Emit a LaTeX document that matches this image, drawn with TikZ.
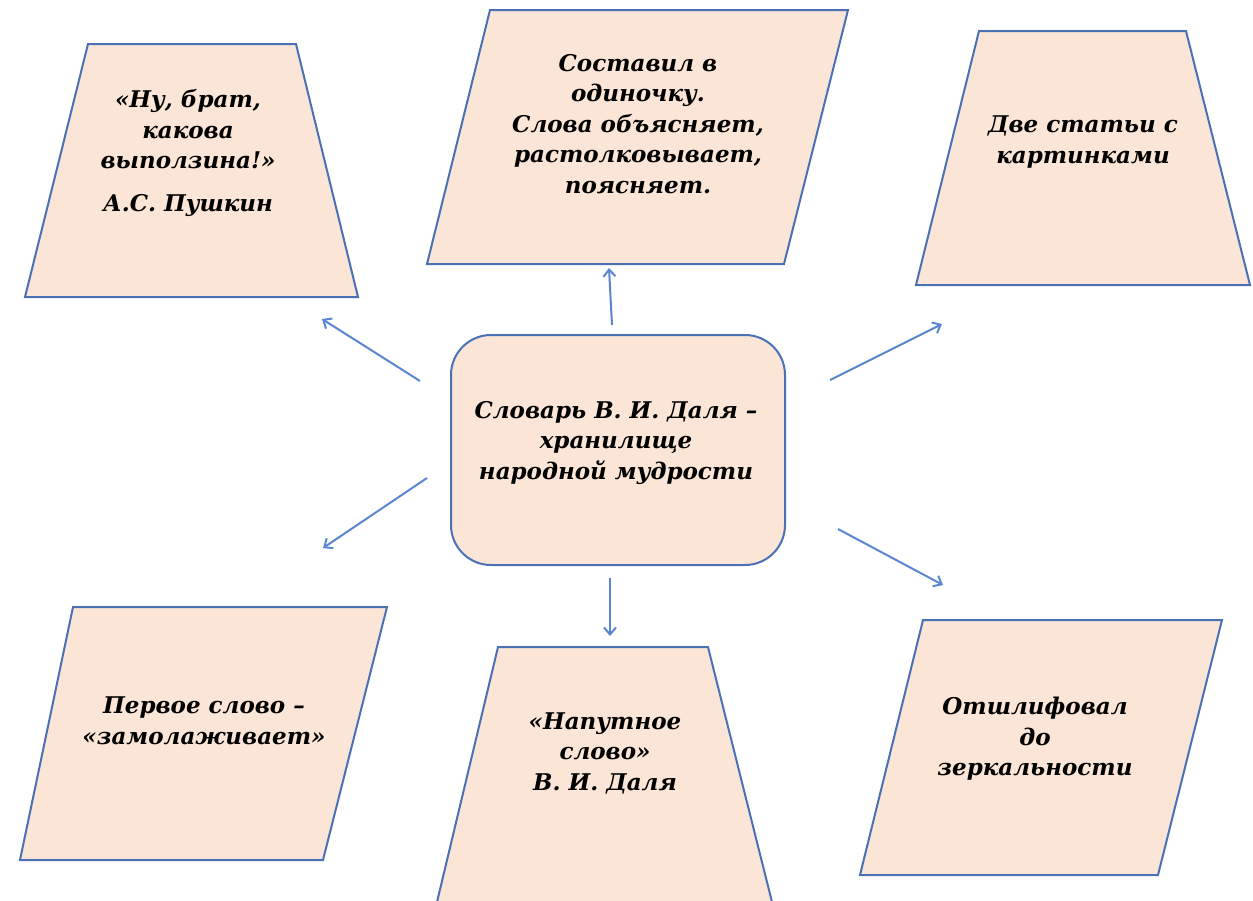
\documentclass[tikz,border=0pt]{standalone}
\usepackage{fontspec}
\setmainfont{DejaVu Serif}
\usetikzlibrary{arrows.meta}
\definecolor{fillc}{HTML}{FBE5D6}
\definecolor{linec}{HTML}{4A70B5}
\definecolor{arrc}{HTML}{5A86D0}
\begin{document}
\begin{tikzpicture}[x=1pt,y=-1pt,
  box/.style={fill=fillc,draw=linec,line width=2pt,line join=miter},
  lbl/.style={font=\fontsize{23}{30.5}\selectfont\bfseries\itshape,align=center,text=black,inner sep=0pt},
  arr/.style={draw=arrc,line width=2pt,-{Straight Barb[length=7pt,width=12pt]}}]
\useasboundingbox (0,0) rectangle (1253,900);
% shapes
\filldraw[box] (88,44) -- (296,44) -- (358,297) -- (25,297) -- cycle;
\filldraw[box] (490,10) -- (848,10) -- (784,264) -- (427,264) -- cycle;
\filldraw[box] (979,31) -- (1186,31) -- (1250,285) -- (916,285) -- cycle;
\filldraw[box,rounded corners=40pt] (451,335) rectangle (785,565);
\filldraw[box] (73,607) -- (387,607) -- (323,860) -- (20,860) -- cycle;
\filldraw[box] (498,647) -- (708,647) -- (772,902) -- (437,902) -- cycle;
\filldraw[box] (923,620) -- (1222,620) -- (1158,875) -- (860,875) -- cycle;
% labels
\node[lbl] (tl) at (188,153) {«Ну, брат,\\какова\\выползина!»\\[12pt]А.С. Пушкин};
\node[lbl] (tc) at (638,124) {Составил в\\одиночку.\\Слова объясняет,\\растолковывает,\\поясняет.};
\node[lbl] (tr) at (1083,142) {Две статьи с\\картинками};
\node[lbl] (c) at (616,443) {Словарь В. И. Даля –\\хранилище\\народной мудрости};
\node[lbl] (bl) at (204,721) {Первое слово –\\«замолаживает»};
\node[lbl] (bc) at (605,753) {«Напутное\\слово»\\В. И. Даля};
\node[lbl] (br) at (1035,739) {Отшлифовал\\до\\зеркальности};
% arrow ends
\coordinate (u0) at (612,325); \coordinate (u1) at (609,268);
\coordinate (d0) at (610,578); \coordinate (d1) at (610,636);
\coordinate (ul0) at (420,381); \coordinate (ul1) at (322,319);
\coordinate (ll0) at (427,478); \coordinate (ll1) at (323,548);
\coordinate (ur0) at (830,380); \coordinate (ur1) at (942,324);
\coordinate (lr0) at (838,529); \coordinate (lr1) at (943,585);
\draw[arr] (u0) -- (u1);
\draw[arr] (d0) -- (d1);
\draw[arr] (ul0) -- (ul1);
\draw[arr] (ll0) -- (ll1);
\draw[arr] (ur0) -- (ur1);
\draw[arr] (lr0) -- (lr1);
\end{tikzpicture}
\end{document}
